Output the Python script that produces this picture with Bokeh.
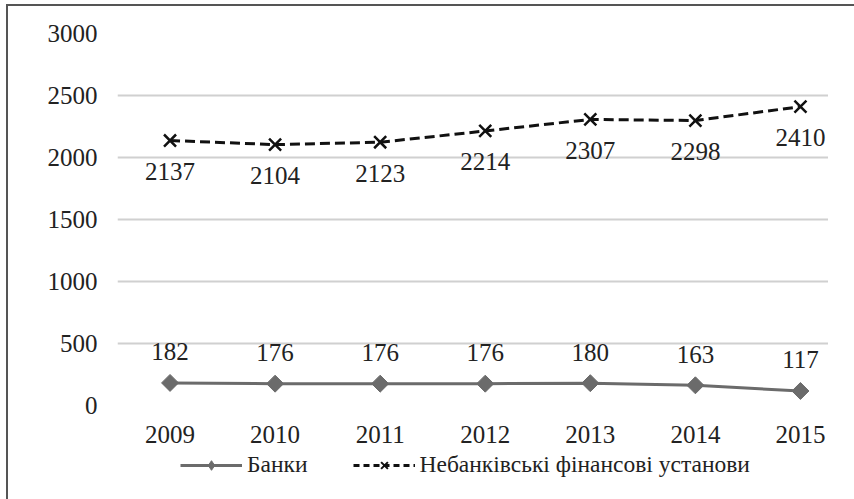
from bokeh.plotting import figure
from bokeh.models import Range1d, FixedTicker, Legend, LegendItem, ColumnDataSource
from bokeh.layouts import column
from bokeh.core.properties import value
from bokeh.embed import file_html
from bokeh.resources import INLINE
import math

years = ["2009", "2010", "2011", "2012", "2013", "2014", "2015"]
banks = [182, 176, 176, 176, 180, 163, 117]
nonbanks = [2137, 2104, 2123, 2214, 2307, 2298, 2410]
series_names = ["Банки", "Небанківські фінансові установи"]
y_ticks = [0, 500, 1000, 1500, 2000, 2500, 3000]

FONT = "Liberation Serif"
TXT = "#222222"
GRAY = "#6b6b6b"
BLACK = "#111111"
idx = list(range(len(years)))

src_b = ColumnDataSource(dict(x=idx, y=banks, lbl=[str(v) for v in banks]))
src_n = ColumnDataSource(dict(x=idx, y=nonbanks, lbl=[str(v) for v in nonbanks]))

p = figure(width=820, height=445, x_range=Range1d(-0.5, 6.267), y_range=Range1d(0, 3000),
           output_backend="svg", toolbar_location=None,
           min_border_left=109, min_border_right=0, min_border_top=27, min_border_bottom=46)
p.outline_line_color = None
p.background_fill_color = "white"
p.border_fill_color = "white"

p.xgrid.grid_line_color = None
p.ygrid.grid_line_color = "#d0d0d0"
p.ygrid.grid_line_width = 2
p.yaxis.ticker = FixedTicker(ticks=y_ticks)
p.xaxis.ticker = FixedTicker(ticks=idx)
p.xaxis.major_label_overrides = {i: y for i, y in zip(idx, years)}
for ax in (p.xaxis, p.yaxis):
    ax.axis_line_color = None
    ax.major_tick_line_color = None
    ax.minor_tick_line_color = None
    ax.major_label_text_font = FONT
    ax.major_label_text_font_size = "25px"
    ax.major_label_text_color = TXT
p.yaxis.major_label_standoff = 14
p.xaxis.major_label_standoff = 14

p.line("x", "y", source=src_b, line_color=GRAY, line_width=3)
p.scatter("x", "y", source=src_b, marker="square", angle=math.pi / 4, size=12,
          fill_color=GRAY, line_color=GRAY)
p.line("x", "y", source=src_n, line_color=BLACK, line_width=3, line_dash="10 5")
p.scatter("x", "y", source=src_n, marker="x", size=17, line_color=BLACK, line_width=2.5)

p.text("x", "y", text="lbl", source=src_b, y_offset=-31, text_align="center", text_baseline="middle",
       text_font=value(FONT), text_font_size="25px", text_color=TXT)
p.text("x", "y", text="lbl", source=src_n, y_offset=31, text_align="center", text_baseline="middle",
       text_font=value(FONT), text_font_size="25px", text_color=TXT)

# legend strip below the chart (series drawn out of its view; only the legend shows)
lg = figure(width=846, height=48, x_range=Range1d(100, 101), y_range=Range1d(0, 1),
            x_axis_location=None, y_axis_location=None,
            output_backend="svg", toolbar_location=None,
            min_border_left=0, min_border_right=0, min_border_top=0, min_border_bottom=0)
lg.grid.visible = False
lg.outline_line_color = None
lg.border_fill_color = "white"
lg.background_fill_color = "white"
r1l = lg.line("x", "y", source=src_b, line_color=GRAY, line_width=3)
r1m = lg.scatter("x", "y", source=src_b, marker="diamond", size=14,
                 fill_color=GRAY, line_color=GRAY)
r2l = lg.line("x", "y", source=src_n, line_color=BLACK, line_width=3, line_dash="6 4")
r2m = lg.scatter("x", "y", source=src_n, marker="x", size=14, line_color=BLACK, line_width=2)
legend = Legend(items=[LegendItem(label=series_names[0], renderers=[r1l, r1m]),
                       LegendItem(label=series_names[1], renderers=[r2l, r2m])],
                orientation="horizontal", location=(63, 21),
                label_text_font=FONT, label_text_font_size="23.5px", label_text_color=TXT,
                glyph_width=62, glyph_height=24, label_height=24, spacing=45, label_standoff=5,
                border_line_color=None, background_fill_alpha=0, padding=0, margin=0)
lg.add_layout(legend)

layout = column(p, lg, spacing=0,
                styles={"border-top": "2px solid #555555", "border-left": "2px solid #555555",
                        "margin-left": "6px", "margin-top": "4px"})

open("out.html", "w").write(file_html(layout, INLINE))
